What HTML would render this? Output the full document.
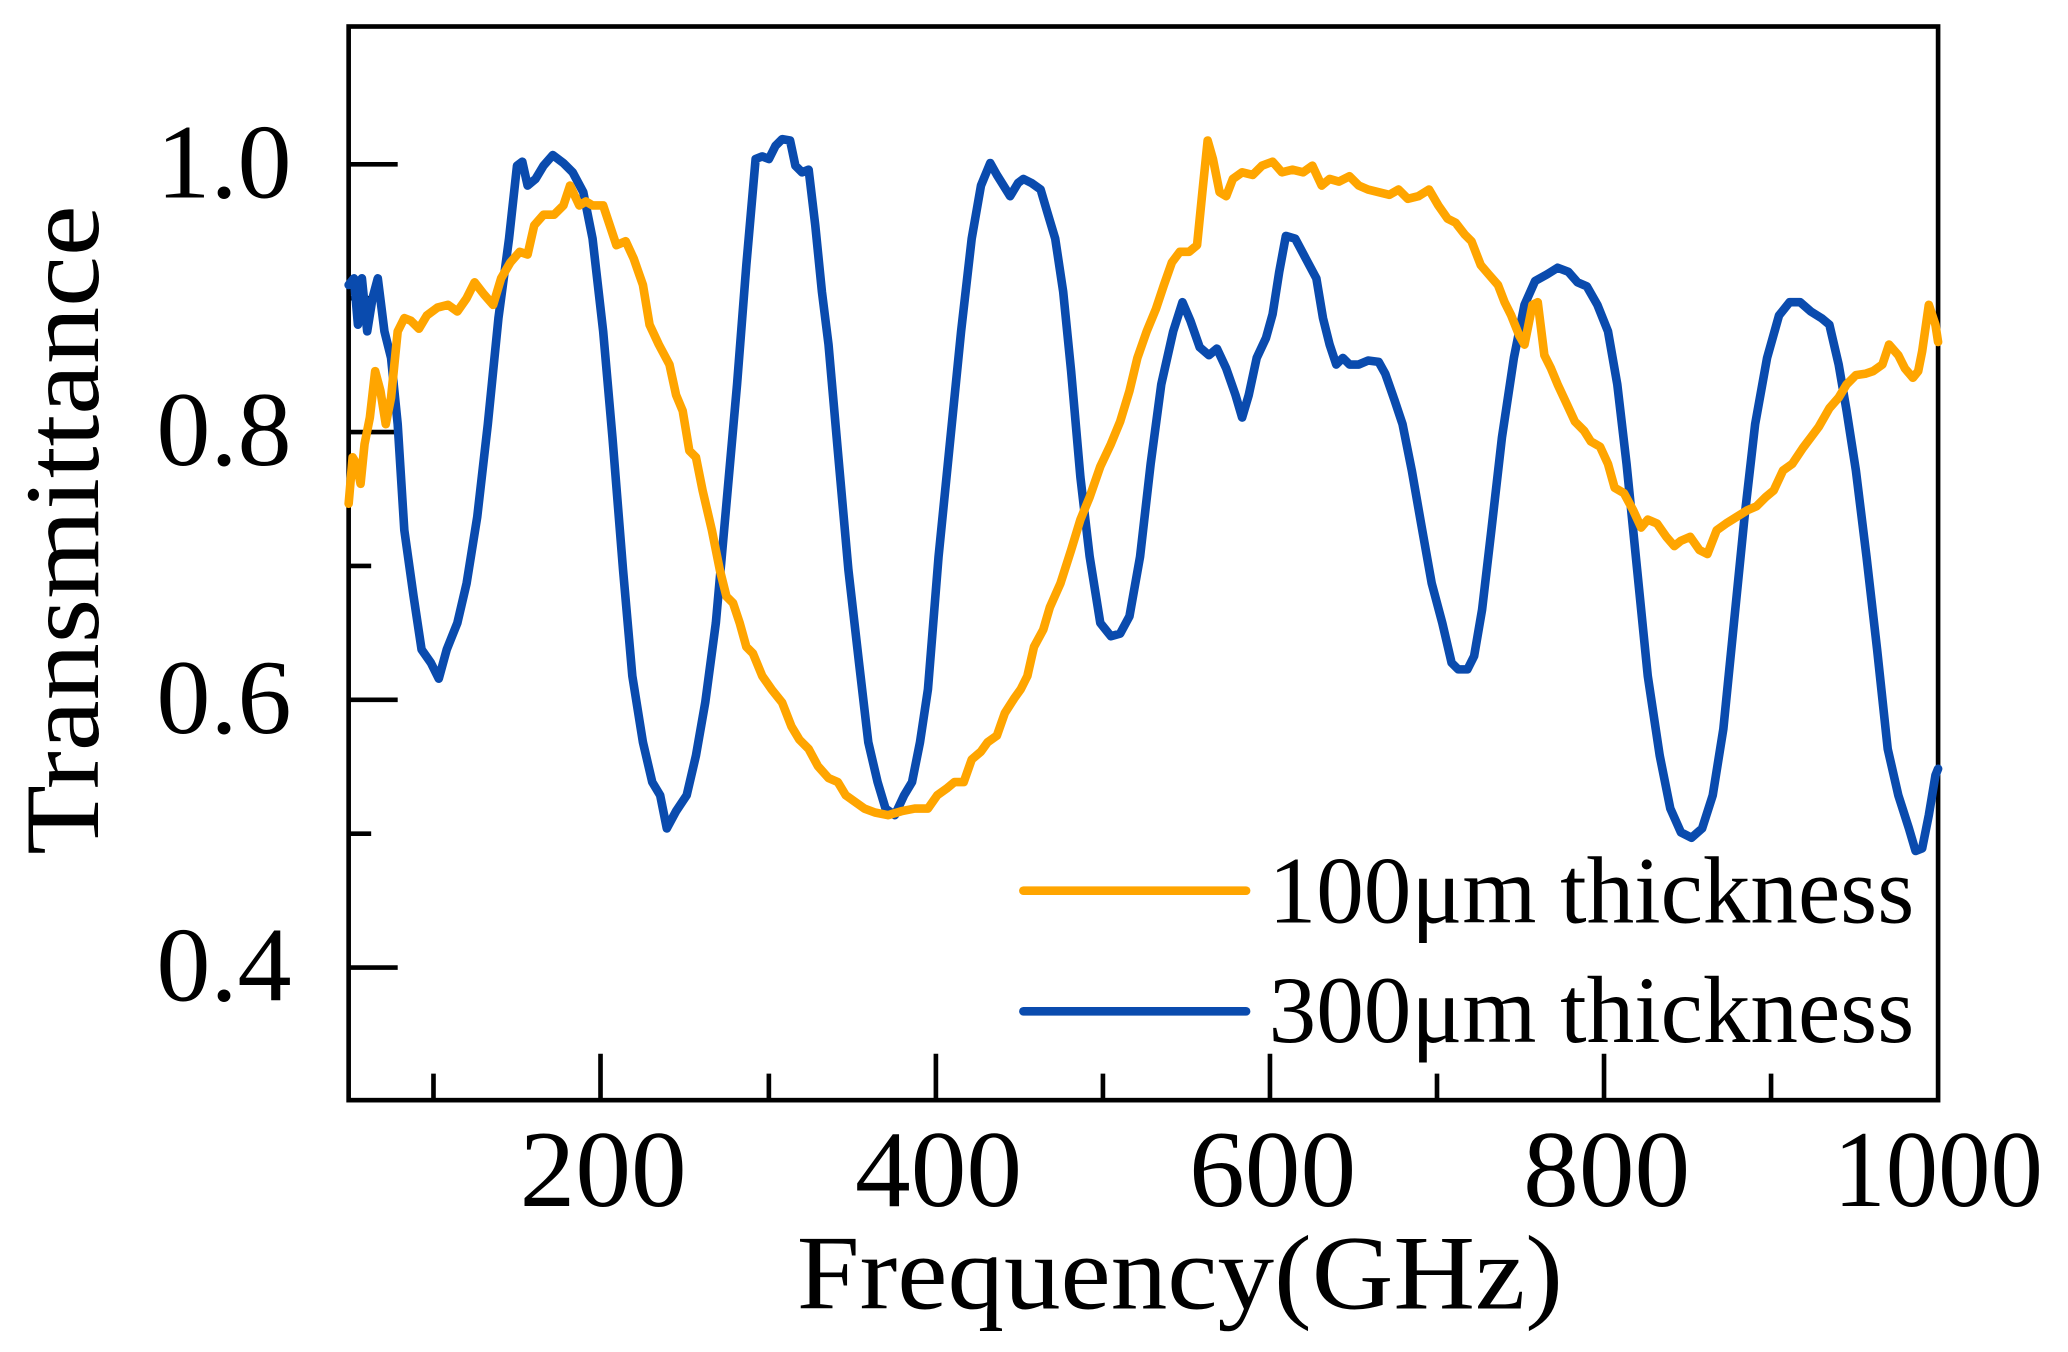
<!DOCTYPE html>
<html><head><meta charset="utf-8"><style>html,body{margin:0;padding:0;background:#fff}svg{display:block}</style></head>
<body>
<svg width="2068" height="1352" viewBox="0 0 1560 1020" preserveAspectRatio="none" xmlns="http://www.w3.org/2000/svg">
<rect width="1560" height="1020" fill="#fff"/>
<g stroke="#000" stroke-width="3.5" fill="none">
<rect x="263" y="20" width="1199" height="810"/>
<path d="M453 830V795M706 830V795M958 830V795M1210 830V795M327 830V810M580 830V810M832 830V810M1084 830V810M1336 830V810"/>
<path d="M263 124H300M263 326H300M263 528H300M263 730H300M263 225H280M263 427H280M263 629H280"/>
</g>
<g font-family="Liberation Serif, serif" fill="#000">
<g font-size="80" text-anchor="end">
<text x="220" y="149" textLength="102" lengthAdjust="spacingAndGlyphs">1.0</text><text x="220" y="351" textLength="102" lengthAdjust="spacingAndGlyphs">0.8</text><text x="220" y="553" textLength="102" lengthAdjust="spacingAndGlyphs">0.6</text><text x="220" y="755" textLength="102" lengthAdjust="spacingAndGlyphs">0.4</text>
</g>
<g font-size="82" text-anchor="middle">
<text x="455" y="910" textLength="126" lengthAdjust="spacingAndGlyphs">200</text><text x="708" y="910" textLength="126" lengthAdjust="spacingAndGlyphs">400</text><text x="960" y="910" textLength="126" lengthAdjust="spacingAndGlyphs">600</text><text x="1212" y="910" textLength="126" lengthAdjust="spacingAndGlyphs">800</text><text x="1462" y="910" textLength="158" lengthAdjust="spacingAndGlyphs">1000</text>
</g>
<text x="890" y="987" font-size="80" text-anchor="middle" textLength="578" lengthAdjust="spacingAndGlyphs">Frequency(GHz)</text>
<text transform="translate(74,400) rotate(-90)" font-size="80" text-anchor="middle" textLength="490" lengthAdjust="spacingAndGlyphs">Transmittance</text>
<text x="957" y="696" font-size="72" textLength="487" lengthAdjust="spacingAndGlyphs">100μm thickness</text>
<text x="957" y="786" font-size="72" textLength="487" lengthAdjust="spacingAndGlyphs">300μm thickness</text>
</g>
<g stroke-width="6.5" stroke-linecap="round" stroke-linejoin="round" fill="none">
<path stroke="#FFA500" d="M772 672H940"/>
<path stroke="#0A4BAE" d="M772 763H940"/>
<path stroke="#0A4BAE" d="M263,215 L267,210 L270,245 L273,210 L277,250 L281,225 L285,210 L290,250 L295,270 L300,320 L305,400 L312,450 L318,490 L325,500 L331,512 L337,490 L345,470 L352,440 L360,390 L368,320 L376,240 L384,180 L390,125 L394,122 L398,140 L404,135 L410,125 L417,117 L425,123 L432,130 L440,145 L447,180 L455,250 L462,330 L470,430 L477,510 L485,560 L492,590 L498,600 L503,625 L510,612 L518,600 L525,570 L532,530 L540,470 L548,380 L556,290 L563,200 L570,120 L575,118 L580,120 L585,110 L590,105 L596,106 L600,125 L605,130 L610,128 L615,170 L620,220 L625,260 L632,340 L640,430 L648,500 L655,560 L662,590 L668,610 L675,615 L682,600 L688,590 L694,560 L700,520 L708,420 L716,340 L725,250 L733,180 L740,140 L747,123 L752,132 L757,140 L762,148 L768,138 L772,135 L778,138 L785,143 L790,160 L796,180 L802,220 L808,280 L815,360 L822,420 L830,470 L838,480 L845,478 L852,465 L860,420 L868,350 L876,290 L885,250 L892,228 L898,242 L905,262 L912,268 L918,263 L925,278 L932,298 L937,315 L942,298 L948,270 L955,255 L960,237 L965,205 L970,178 L977,180 L985,195 L993,210 L998,240 L1003,260 L1008,275 L1013,270 L1018,275 L1025,275 L1032,272 L1040,273 L1045,282 L1052,302 L1058,320 L1065,355 L1072,395 L1080,440 L1088,470 L1095,500 L1100,505 L1107,505 L1112,495 L1118,460 L1125,400 L1133,330 L1142,270 L1150,230 L1158,212 L1167,207 L1175,202 L1183,205 L1190,213 L1197,216 L1205,230 L1213,250 L1220,290 L1227,350 L1235,430 L1243,510 L1252,570 L1260,610 L1268,628 L1276,632 L1284,625 L1292,600 L1300,550 L1308,470 L1316,390 L1324,320 L1333,270 L1342,238 L1350,228 L1358,228 L1366,235 L1374,240 L1380,245 L1387,275 L1393,310 L1400,355 L1408,420 L1416,490 L1424,565 L1432,600 L1440,625 L1445,642 L1450,640 L1455,615 L1460,585 L1462,580"/>
<path stroke="#FFA500" d="M263,380 L266,345 L269,350 L272,365 L275,335 L279,315 L283,280 L287,295 L291,320 L295,300 L300,250 L305,240 L310,242 L316,248 L322,238 L330,232 L338,230 L345,235 L352,225 L358,213 L365,222 L372,230 L378,210 L385,198 L392,190 L398,192 L403,170 L410,162 L418,162 L425,155 L430,140 L437,155 L442,152 L447,155 L455,155 L460,170 L465,185 L472,182 L478,195 L485,215 L490,245 L497,260 L505,275 L510,298 L515,310 L520,340 L525,345 L530,370 L537,400 L543,430 L548,450 L553,455 L558,470 L563,488 L568,493 L575,510 L582,520 L590,530 L597,548 L603,558 L610,565 L617,578 L625,587 L632,590 L638,600 L645,605 L652,610 L660,613 L670,615 L680,612 L690,610 L700,610 L707,600 L714,595 L720,590 L727,590 L733,573 L740,567 L745,560 L752,555 L758,538 L765,527 L770,520 L775,510 L780,488 L787,475 L792,458 L800,440 L808,415 L815,392 L822,375 L830,352 L838,335 L845,318 L852,295 L858,270 L865,250 L872,233 L878,215 L884,198 L890,190 L897,190 L903,185 L907,145 L911,106 L915,120 L920,145 L925,148 L930,135 L937,130 L945,132 L952,125 L960,122 L967,130 L975,128 L983,130 L990,125 L997,140 L1003,135 L1010,137 L1018,133 L1025,140 L1032,143 L1040,145 L1048,147 L1055,143 L1062,150 L1070,148 L1078,143 L1085,155 L1092,165 L1098,168 L1105,177 L1110,182 L1117,200 L1123,207 L1130,215 L1135,228 L1140,238 L1146,253 L1150,260 L1156,230 L1160,228 L1165,268 L1170,278 L1175,290 L1182,305 L1188,318 L1195,325 L1200,333 L1207,337 L1213,350 L1218,368 L1225,372 L1232,385 L1238,398 L1243,392 L1250,395 L1257,405 L1263,412 L1268,408 L1275,405 L1282,415 L1288,418 L1295,400 L1302,395 L1310,390 L1318,385 L1325,382 L1332,375 L1338,370 L1345,355 L1352,350 L1360,338 L1366,330 L1372,322 L1380,308 L1387,300 L1393,290 L1400,283 L1407,282 L1413,280 L1420,275 L1425,260 L1432,268 L1437,278 L1443,285 L1447,280 L1450,265 L1455,230 L1460,245 L1462,258"/>
</g>
</svg>
</body></html>
